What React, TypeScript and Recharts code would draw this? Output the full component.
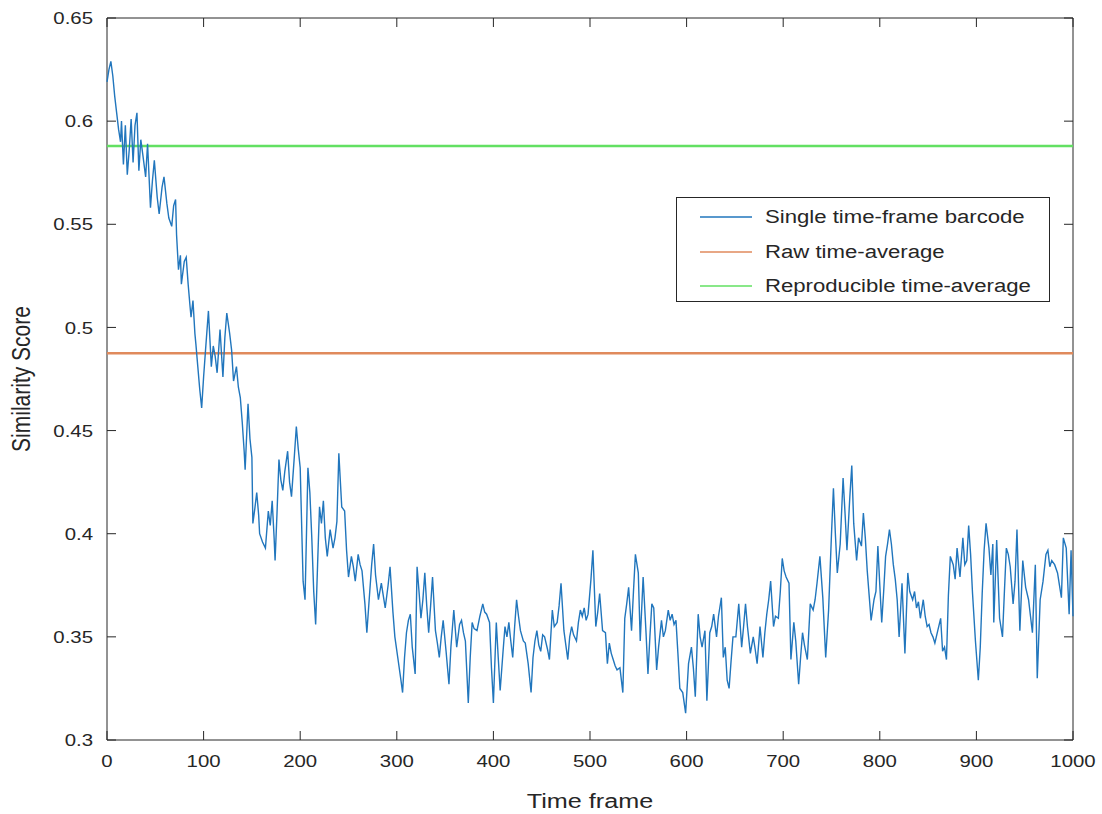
import { LineChart, Line, XAxis, YAxis, ReferenceLine, ReferenceArea } from 'recharts';

// Similarity score of the single time-frame barcode, [frame, score]
const singleFrame: [number, number][] = [
  [0, 0.619], [2, 0.625], [4, 0.629], [6, 0.622], [8, 0.612], [10, 0.604], [12, 0.596], [14, 0.59],
  [15, 0.6], [17, 0.579], [19, 0.598], [21, 0.574], [23, 0.586], [25, 0.601], [27, 0.58], [29, 0.598],
  [31, 0.604], [33, 0.576], [35, 0.591], [37, 0.584], [40, 0.573], [42, 0.589], [45, 0.558], [47, 0.571],
  [49, 0.581], [52, 0.563], [54, 0.555], [57, 0.568], [59, 0.573], [62, 0.56], [64, 0.553], [67, 0.549],
  [69, 0.559], [71, 0.562], [72, 0.545], [74, 0.528], [76, 0.535], [77, 0.521], [80, 0.532], [82, 0.534],
  [84, 0.521], [86, 0.51], [87, 0.505], [89, 0.513], [91, 0.497], [92, 0.492], [94, 0.481], [96, 0.47],
  [98, 0.461], [100, 0.476], [102, 0.489], [105, 0.508], [108, 0.481], [110, 0.491], [112, 0.486], [114, 0.478],
  [117, 0.499], [120, 0.476], [122, 0.495], [124, 0.507], [127, 0.497], [129, 0.489], [131, 0.474], [134, 0.481],
  [136, 0.471], [138, 0.466], [140, 0.454], [142, 0.44], [143, 0.431], [146, 0.463], [148, 0.446], [150, 0.437],
  [151, 0.405], [153, 0.412], [155, 0.42], [157, 0.409], [158, 0.4], [161, 0.396], [164, 0.393], [167, 0.411],
  [169, 0.404], [171, 0.416], [173, 0.398], [174, 0.387], [176, 0.41], [178, 0.436], [180, 0.426], [182, 0.421],
  [184, 0.43], [187, 0.44], [189, 0.425], [191, 0.418], [194, 0.438], [196, 0.452], [198, 0.441], [200, 0.432],
  [202, 0.395], [203, 0.377], [205, 0.368], [208, 0.432], [210, 0.42], [212, 0.398], [214, 0.372], [216, 0.356],
  [218, 0.385], [220, 0.413], [222, 0.405], [224, 0.416], [226, 0.398], [228, 0.389], [231, 0.402], [234, 0.393],
  [236, 0.398], [238, 0.406], [240, 0.439], [243, 0.413], [246, 0.411], [248, 0.392], [250, 0.379], [253, 0.389],
  [255, 0.384], [257, 0.377], [260, 0.39], [262, 0.385], [264, 0.382], [267, 0.366], [269, 0.352], [272, 0.372],
  [274, 0.385], [276, 0.395], [278, 0.38], [281, 0.368], [284, 0.376], [286, 0.37], [288, 0.364], [291, 0.375],
  [293, 0.384], [296, 0.362], [298, 0.35], [301, 0.34], [304, 0.33], [306, 0.323], [308, 0.34], [310, 0.352],
  [312, 0.358], [314, 0.361], [316, 0.345], [319, 0.332], [321, 0.384], [323, 0.372], [325, 0.359], [327, 0.368],
  [329, 0.381], [331, 0.365], [333, 0.352], [335, 0.365], [337, 0.379], [340, 0.353], [342, 0.347], [344, 0.34],
  [346, 0.35], [348, 0.358], [351, 0.343], [354, 0.327], [356, 0.345], [359, 0.363], [362, 0.345], [365, 0.356],
  [367, 0.358], [369, 0.352], [371, 0.348], [374, 0.318], [376, 0.34], [378, 0.357], [380, 0.354], [383, 0.353],
  [386, 0.36], [389, 0.366], [391, 0.362], [393, 0.361], [396, 0.357], [398, 0.335], [400, 0.318], [403, 0.357],
  [405, 0.34], [407, 0.324], [410, 0.343], [412, 0.355], [414, 0.35], [416, 0.357], [418, 0.348], [420, 0.34],
  [422, 0.355], [424, 0.368], [426, 0.36], [428, 0.353], [431, 0.348], [433, 0.347], [436, 0.337], [439, 0.323],
  [441, 0.34], [443, 0.348], [445, 0.353], [447, 0.346], [449, 0.343], [451, 0.351], [453, 0.35], [456, 0.344],
  [458, 0.339], [461, 0.363], [463, 0.355], [466, 0.357], [468, 0.365], [470, 0.376], [473, 0.353], [475, 0.346],
  [477, 0.339], [479, 0.35], [481, 0.355], [483, 0.351], [486, 0.348], [488, 0.357], [490, 0.363], [492, 0.36],
  [494, 0.364], [496, 0.358], [498, 0.361], [501, 0.378], [503, 0.392], [506, 0.355], [508, 0.362], [510, 0.371],
  [513, 0.353], [516, 0.352], [518, 0.337], [520, 0.347], [522, 0.342], [524, 0.339], [526, 0.336], [528, 0.334],
  [531, 0.335], [534, 0.323], [536, 0.359], [538, 0.366], [540, 0.374], [543, 0.353], [545, 0.372], [547, 0.39],
  [550, 0.381], [552, 0.348], [555, 0.379], [558, 0.352], [560, 0.332], [562, 0.35], [564, 0.366], [566, 0.364],
  [569, 0.334], [571, 0.345], [574, 0.358], [576, 0.35], [578, 0.353], [581, 0.363], [583, 0.358], [585, 0.361],
  [587, 0.356], [589, 0.358], [591, 0.342], [593, 0.325], [596, 0.323], [599, 0.313], [602, 0.337], [605, 0.345],
  [607, 0.335], [609, 0.321], [612, 0.361], [614, 0.35], [616, 0.345], [619, 0.353], [621, 0.319], [624, 0.352],
  [626, 0.355], [628, 0.361], [631, 0.35], [633, 0.36], [636, 0.369], [638, 0.34], [640, 0.345], [642, 0.329],
  [644, 0.325], [646, 0.338], [648, 0.35], [651, 0.35], [654, 0.366], [657, 0.345], [659, 0.355], [661, 0.366],
  [663, 0.355], [666, 0.342], [669, 0.35], [671, 0.344], [673, 0.337], [676, 0.355], [679, 0.34], [681, 0.352],
  [683, 0.361], [685, 0.368], [687, 0.377], [690, 0.355], [692, 0.36], [695, 0.359], [697, 0.372], [699, 0.388],
  [701, 0.382], [703, 0.379], [706, 0.376], [708, 0.339], [711, 0.357], [713, 0.348], [716, 0.327], [718, 0.34],
  [720, 0.352], [722, 0.346], [725, 0.339], [728, 0.366], [731, 0.363], [733, 0.368], [735, 0.376], [738, 0.389],
  [741, 0.369], [744, 0.34], [747, 0.363], [750, 0.4], [752, 0.422], [754, 0.4], [756, 0.381], [759, 0.395],
  [762, 0.427], [764, 0.41], [766, 0.392], [769, 0.418], [771, 0.433], [773, 0.405], [776, 0.387], [778, 0.398],
  [781, 0.394], [783, 0.41], [785, 0.398], [787, 0.382], [789, 0.37], [791, 0.358], [794, 0.368], [796, 0.372],
  [798, 0.394], [800, 0.375], [802, 0.357], [804, 0.372], [806, 0.389], [808, 0.395], [810, 0.402], [812, 0.395],
  [814, 0.385], [816, 0.378], [818, 0.368], [820, 0.35], [823, 0.376], [826, 0.342], [829, 0.381], [831, 0.372],
  [834, 0.368], [836, 0.372], [838, 0.364], [840, 0.367], [842, 0.359], [845, 0.368], [847, 0.36], [849, 0.355],
  [851, 0.356], [853, 0.352], [855, 0.35], [857, 0.347], [860, 0.353], [863, 0.359], [865, 0.343], [867, 0.345],
  [869, 0.339], [871, 0.37], [873, 0.389], [876, 0.385], [878, 0.378], [880, 0.393], [883, 0.379], [886, 0.398],
  [888, 0.385], [890, 0.387], [892, 0.404], [894, 0.39], [896, 0.371], [899, 0.348], [902, 0.329], [904, 0.345],
  [906, 0.371], [908, 0.392], [910, 0.405], [913, 0.393], [915, 0.38], [917, 0.395], [918, 0.357], [921, 0.397],
  [924, 0.359], [927, 0.35], [929, 0.372], [931, 0.393], [933, 0.39], [935, 0.384], [938, 0.366], [940, 0.377],
  [942, 0.402], [945, 0.353], [948, 0.387], [951, 0.374], [954, 0.368], [956, 0.36], [958, 0.352], [961, 0.385],
  [963, 0.33], [966, 0.368], [969, 0.377], [972, 0.39], [974, 0.392], [976, 0.384], [978, 0.387], [981, 0.385],
  [984, 0.381], [986, 0.375], [988, 0.369], [990, 0.398], [993, 0.393], [996, 0.361], [998, 0.392], [1000, 0.36],
];

const rawAverage = 0.4875;
const reproducibleAverage = 0.588;

const xTicks = [0, 100, 200, 300, 400, 500, 600, 700, 800, 900, 1000];
const yTicks = [0.3, 0.35, 0.4, 0.45, 0.5, 0.55, 0.6, 0.65];

const legendItems = [
  { label: 'Single time-frame barcode', color: '#2176bd' },
  { label: 'Raw time-average', color: '#e08a5c' },
  { label: 'Reproducible time-average', color: '#62e062' },
];

const data = singleFrame.map(([frame, score]) => ({ frame, score }));

const WIDTH = 1102;
const HEIGHT = 814;
const MARGIN = { top: 18, right: 29, bottom: 0, left: 0 };
const PLOT_TOP = MARGIN.top;
const PLOT_RIGHT = WIDTH - MARGIN.right;
const INK = '#262626';
const FONT = "'Liberation Sans', Arial, sans-serif";
const STRETCH = 1.2; // text is drawn a little wide, like the exported figure
const TICK_LEN = 9;
const X_GAP = 15;
const Y_GAP = 14;

// bottom tick: inward mark at the bottom and top edge plus label
const XTick = (props: any) => {
  const { x, y, payload } = props;
  const axisY = y - X_GAP;
  return (
    <g>
      <line x1={x} x2={x} y1={axisY} y2={axisY - TICK_LEN} stroke={INK} strokeWidth={1} />
      <line x1={x} x2={x} y1={PLOT_TOP} y2={PLOT_TOP + TICK_LEN} stroke={INK} strokeWidth={1} />
      <text
        transform={`translate(${x},${y}) scale(${STRETCH},1)`}
        textAnchor="middle"
        dy="0.72em"
        fill={INK}
        fontSize={17}
        fontFamily={FONT}
      >
        {payload.value}
      </text>
    </g>
  );
};

// left tick: inward mark at the left and right edge plus label
const YTick = (props: any) => {
  const { x, y, payload } = props;
  const axisX = x + Y_GAP;
  return (
    <g>
      <line x1={axisX} x2={axisX + TICK_LEN} y1={y} y2={y} stroke={INK} strokeWidth={1} />
      <line x1={PLOT_RIGHT} x2={PLOT_RIGHT - TICK_LEN} y1={y} y2={y} stroke={INK} strokeWidth={1} />
      <text
        transform={`translate(${x},${y}) scale(${STRETCH},1)`}
        textAnchor="end"
        dy="0.36em"
        fill={INK}
        fontSize={17}
        fontFamily={FONT}
      >
        {payload.value}
      </text>
    </g>
  );
};

const XLabel = (props: any) => {
  const { x, y, width, height } = props.viewBox;
  return (
    <text
      transform={`translate(${x + width / 2},${y + height - 6}) scale(${STRETCH},1)`}
      textAnchor="middle"
      fill={INK}
      fontSize={21}
      fontFamily={FONT}
    >
      Time frame
    </text>
  );
};

const YLabel = (props: any) => {
  const { y, height } = props.viewBox;
  return (
    <text
      transform={`translate(30,${y + height / 2}) scale(${STRETCH},1) rotate(-90)`}
      textAnchor="middle"
      fill={INK}
      fontSize={21}
      fontFamily={FONT}
    >
      Similarity Score
    </text>
  );
};

// legend box laid over the upper right of the plot
const LegendBox = () => (
  <div
    style={{
      position: 'absolute',
      left: 676,
      top: 197,
      width: 374,
      height: 105,
      boxSizing: 'border-box',
      border: `1px solid ${INK}`,
      background: '#fff',
      fontFamily: FONT,
      fontSize: 18,
      color: INK,
    }}
  >
    {legendItems.map((item, i) => (
      <div key={item.label} style={{ position: 'absolute', left: 0, top: 19 + i * 34.5, height: 0 }}>
        <svg width={80} height={4} style={{ position: 'absolute', left: 0, top: -2 }}>
          <line x1={23} x2={75} y1={2} y2={2} stroke={item.color} strokeWidth={1.5} />
        </svg>
        <span
          style={{
            position: 'absolute',
            left: 88,
            top: -11,
            whiteSpace: 'nowrap',
            lineHeight: '22px',
            display: 'inline-block',
            transform: `scaleX(${STRETCH + 0.03})`,
            transformOrigin: 'left center',
          }}
        >
          {item.label}
        </span>
      </div>
    ))}
  </div>
);

export default function App() {
  return (
    <div style={{ position: 'absolute', left: 0, top: 0, width: WIDTH, height: HEIGHT, background: '#fff' }}>
      <LineChart width={WIDTH} height={HEIGHT} data={data} margin={MARGIN}>
        <XAxis
          dataKey="frame"
          type="number"
          domain={[0, 1000]}
          ticks={xTicks}
          height={74}
          axisLine={false}
          tickLine={false}
          tickSize={0}
          tickMargin={X_GAP}
          tick={<XTick />}
          interval={0}
          label={<XLabel />}
        />
        <YAxis
          type="number"
          domain={[0.3, 0.65]}
          ticks={yTicks}
          width={107}
          axisLine={false}
          tickLine={false}
          tickSize={0}
          tickMargin={Y_GAP}
          tick={<YTick />}
          interval={0}
          label={<YLabel />}
        />
        <ReferenceArea x1={0} x2={1000} y1={0.3} y2={0.65} fill="none" stroke={INK} strokeWidth={1} />
        <ReferenceLine y={reproducibleAverage} stroke={legendItems[2].color} strokeWidth={2.5} />
        <ReferenceLine y={rawAverage} stroke={legendItems[1].color} strokeWidth={2.5} />
        <Line
          type="linear"
          dataKey="score"
          stroke={legendItems[0].color}
          strokeWidth={1.4}
          dot={false}
          isAnimationActive={false}
        />
      </LineChart>
      <LegendBox />
    </div>
  );
}
